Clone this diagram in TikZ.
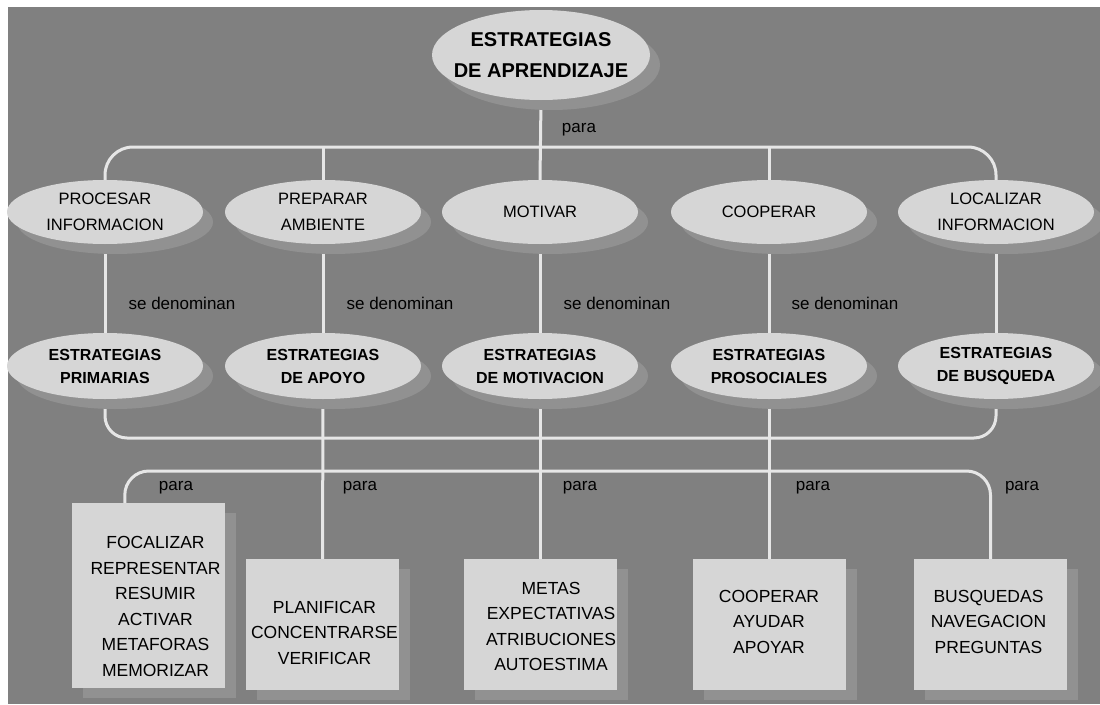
\documentclass[tikz,border=0pt]{standalone}
\usepackage{fontspec}
\setmainfont{Liberation Sans}
\usetikzlibrary{shapes.geometric,shadows,calc}
\pgfdeclarelayer{bg}
\pgfdeclarelayer{lines}
\pgfsetlayers{bg,lines,main}
\definecolor{bgc}{HTML}{808080}
\definecolor{shadc}{HTML}{919191}
\definecolor{fillc}{HTML}{D6D6D6}
\definecolor{linec}{HTML}{E6E6E6}
\begin{document}
\begin{tikzpicture}[x=1pt,y=-1pt,
  oval/.style={ellipse, fill=fillc, minimum width=196pt, minimum height=64pt,
    inner xsep=-40pt, inner ysep=-15pt, align=center,
    drop shadow={shadow xshift=10pt, shadow yshift=-10pt, fill=shadc, opacity=1}},
  topoval/.style={oval, minimum width=218pt, minimum height=90pt,
    font=\fontsize{20}{31}\selectfont\bfseries},
  actoval/.style={oval, font=\fontsize{16.5}{26}\selectfont},
  stroval/.style={oval, minimum height=66pt, font=\fontsize{16}{23}\selectfont\bfseries},
  box/.style={rectangle, fill=fillc, minimum width=153pt, inner sep=0pt,
    drop shadow={shadow xshift=11pt, shadow yshift=-10pt, fill=shadc, opacity=1}},
  boxtext/.style={align=center, inner sep=0pt, font=\fontsize{17.5}{25.5}\selectfont},
  lbl/.style={inner sep=0pt, font=\fontsize{17}{20}\selectfont},
  conn/.style={draw=linec, line width=3pt}
]
\useasboundingbox (0,0) rectangle (1100,704);
\begin{pgfonlayer}{bg}
  \fill[white] (0,0) rectangle (1100,704);
  \fill[bgc] (8,7) rectangle (1100,704);
\end{pgfonlayer}

% top
\node[topoval] (top) at (541,55) {ESTRATEGIAS\\DE APRENDIZAJE};

% row 2
\node[actoval] (p1) at (105,212) {PROCESAR\\INFORMACION};
\node[actoval] (p2) at (323,212) {PREPARAR\\AMBIENTE};
\node[actoval] (p3) at (540,212) {MOTIVAR};
\node[actoval] (p4) at (769,212) {COOPERAR};
\node[actoval] (p5) at (996,212) {LOCALIZAR\\INFORMACION};

% row 3
\node[stroval] (s1) at (105,366) {ESTRATEGIAS\\PRIMARIAS};
\node[stroval] (s2) at (323,366) {ESTRATEGIAS\\DE APOYO};
\node[stroval] (s3) at (540,366) {ESTRATEGIAS\\DE MOTIVACION};
\node[stroval] (s4) at (769,366) {ESTRATEGIAS\\PROSOCIALES};
\node[stroval] (s5) at (996,366) {ESTRATEGIAS\\DE BUSQUEDA};

% boxes
\node[box, minimum height=185pt] (b1) at (148.5,595.5) {};
\node[box, minimum height=131pt] (b2) at (322.5,624.5) {};
\node[box, minimum height=131pt] (b3) at (540,624.5) {};
\node[box, minimum height=131pt] (b4) at (769,624.5) {};
\node[box, minimum height=131pt] (b5) at (990.5,624.5) {};
\node[boxtext] (t1) at ($(b1)+(7,11)$) {FOCALIZAR\\REPRESENTAR\\RESUMIR\\ACTIVAR\\METAFORAS\\MEMORIZAR};
\node[boxtext] (t2) at ($(b2)+(2,8)$) {PLANIFICAR\\CONCENTRARSE\\VERIFICAR};
\node[boxtext] (t3) at ($(b3)+(11,2)$) {METAS\\EXPECTATIVAS\\ATRIBUCIONES\\AUTOESTIMA};
\node[boxtext] (t4) at ($(b4)+(0,-3)$) {COOPERAR\\AYUDAR\\APOYAR};
\node[boxtext] (t5) at ($(b5)+(-2,-3)$) {BUSQUEDAS\\NAVEGACION\\PREGUNTAS};

% labels
\node[lbl] (l0) at (579,130) {para};
\node[lbl] (d1) at (182,303) {se denominan};
\node[lbl] (d2) at (400,303) {se denominan};
\node[lbl] (d3) at (617,303) {se denominan};
\node[lbl] (d4) at (845,303) {se denominan};
\node[lbl] (q1) at (176,488) {para};
\node[lbl] (q2) at (360,488) {para};
\node[lbl] (q3) at (580,488) {para};
\node[lbl] (q4) at (813,488) {para};
\node[lbl] (q5) at (1022,488) {para};

% connectors
\coordinate (bus1) at (540,147);
\coordinate (bus2) at (540,438);
\coordinate (bus3) at (540,471);
\coordinate (b1in) at ($(b1.north west)+(53,0)$);
\begin{pgfonlayer}{lines}
  \draw[conn, rounded corners=28pt] (p1.north) |- (bus1) -| (p5.north);
  \draw[conn] (top.south) -- (p3.north);
  \draw[conn] (p2.north) -- (p2.north |- bus1);
  \draw[conn] (p4.north) -- (p4.north |- bus1);
  \foreach \i in {1,...,5} {\draw[conn] (p\i.south) -- (s\i.north);}
  \draw[conn, rounded corners=22pt] (s1.south) |- (bus2) -| (s5.south);
  \draw[conn] (s2.south) -- (b2.north);
  \draw[conn] (s3.south) -- (b3.north);
  \draw[conn] (s4.south) -- (b4.north);
  \draw[conn, rounded corners=24pt] (b1in) |- (bus3) -| (b5.north);
\end{pgfonlayer}
\end{tikzpicture}
\end{document}
